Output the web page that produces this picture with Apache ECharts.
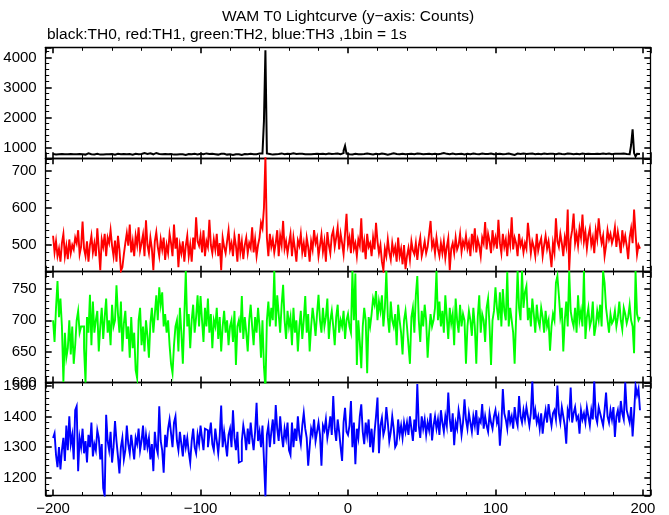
<!DOCTYPE html>
<html><head><meta charset="utf-8">
<script src="https://cdn.jsdelivr.net/npm/echarts@6/dist/echarts.min.js"></script>
<style>html,body{margin:0;padding:0;background:#fff}#c{width:669px;height:515px}</style>
</head><body><div id="c"></div>
<script>
// time bins: 1 bin = 1 s, first bin starts at t = -200 s
const binStart = -200;
const binWidth = 1;

// TH0 (black) counts per bin
const th0 = [
790,775,800,785,770,790,795,780,765,785,800,790,775,780,795,785,770,790,805,780,
785,770,795,810,790,780,765,775,790,800,785,770,760,775,790,785,770,780,795,790,
780,770,785,800,795,780,770,790,805,785,775,790,780,770,785,800,790,780,775,790,
810,820,800,790,805,815,790,780,800,825,810,790,795,780,770,790,800,785,775,790,
780,770,790,775,760,780,795,785,770,760,775,790,785,780,795,800,790,775,785,800,
790,780,795,810,805,790,780,795,800,785,775,770,780,795,790,800,785,770,765,780,
775,760,770,785,790,780,770,760,775,790,800,785,780,795,790,780,800,785,790,810,
790,805,820,1890,4250,810,790,775,770,785,780,800,790,820,810,795,780,790,800,785,
790,800,815,805,790,780,795,810,800,790,785,795,780,770,785,800,790,780,795,805,
790,785,800,795,780,790,805,800,790,785,795,800,810,790,785,800,820,900,1060,800,
780,790,775,785,800,790,780,770,785,795,790,800,805,785,790,780,775,785,800,790,
785,795,810,800,790,780,770,785,790,800,815,805,790,785,780,795,800,790,785,780,
790,800,795,785,780,790,805,800,795,790,785,780,790,800,795,785,780,790,800,795,
785,790,800,810,820,805,795,790,785,800,810,795,785,780,790,800,795,785,775,790,
800,795,785,790,805,800,790,785,780,795,805,800,790,785,790,800,810,795,785,780,
790,805,800,790,780,775,790,800,810,795,785,790,760,780,805,800,790,795,810,800,
790,785,800,815,805,790,780,795,800,790,785,800,810,795,790,780,795,805,800,790,
785,795,810,800,790,785,780,795,805,815,800,790,785,795,800,790,780,790,805,800,
790,785,800,795,790,780,790,800,795,785,790,800,810,795,790,800,805,790,785,795,
800,810,795,790,800,815,805,795,790,800,785,780,1090,1610,820,710,800,790,795
];

// TH1 (red) counts per bin
const th1 = [
525,480,510,470,490,455,505,530,470,498,462,515,478,500,488,520,505,540,475,495,
563,490,470,510,455,500,525,480,505,470,545,490,432,515,495,530,470,520,505,540,
498,470,512,455,525,488,430,440,475,505,532,498,555,480,510,470,525,500,548,485,
505,528,470,567,500,478,520,490,432,510,535,495,470,515,488,520,460,500,478,530,
505,470,555,490,520,440,500,478,510,455,498,525,470,500,455,520,488,575,510,498,
525,480,540,470,510,495,568,500,478,515,488,530,470,505,432,520,495,478,510,540,
488,505,470,525,498,455,530,480,510,462,500,520,478,505,492,548,480,515,470,500,
520,560,545,600,740,520,470,530,495,515,480,505,540,470,525,500,565,490,510,478,
505,530,470,520,490,455,512,498,530,480,505,468,520,495,455,510,488,540,505,520,
470,498,528,482,510,455,535,500,478,525,540,495,520,548,488,530,505,475,530,584,
500,520,478,545,490,505,470,515,498,572,480,510,462,530,495,505,470,520,488,560,
510,478,500,455,432,490,470,515,480,460,505,478,495,455,520,470,490,448,500,435,
470,492,460,510,485,475,505,460,498,520,470,488,510,478,495,530,565,495,510,478,
520,490,470,505,478,510,465,495,518,432,490,505,478,520,488,500,530,482,510,495,
525,490,508,470,530,500,545,480,515,498,470,520,505,562,488,530,510,478,540,500,
520,490,568,505,478,530,495,515,470,525,500,575,488,520,505,470,530,498,512,480,
505,490,560,520,478,510,495,470,530,485,505,518,470,500,525,490,510,478,440,505,
480,572,510,495,530,505,470,520,498,596,432,515,540,585,505,530,498,545,520,582,
510,535,490,525,545,500,520,478,540,515,572,530,505,525,470,498,540,515,530,505,
520,548,495,535,510,478,540,505,525,498,462,520,545,505,596,530,474,500,490
];

// TH2 (green) counts per bin
const th2 = [
700,665,720,763,705,735,690,601,680,640,655,700,645,690,630,660,700,715,680,690,
690,655,600,705,680,741,660,730,680,700,715,650,690,720,670,705,735,680,700,660,
725,690,700,756,710,680,730,650,695,715,670,690,640,705,655,680,620,607,700,720,
660,690,650,700,675,640,695,720,680,710,740,700,753,725,745,690,710,680,700,660,
630,615,660,690,700,650,720,680,630,705,779,690,710,655,700,725,680,705,740,690,
739,700,665,720,690,735,680,710,655,700,690,720,670,705,650,690,715,680,700,660,
690,700,665,715,628,690,700,680,739,670,705,680,650,700,725,690,660,705,680,720,
690,640,700,625,590,700,730,690,720,700,779,690,740,710,680,725,757,700,670,715,
690,705,660,720,680,700,650,690,715,670,700,739,680,710,650,690,720,700,675,710,
741,700,680,720,690,705,735,670,700,715,690,660,705,725,680,700,690,715,670,700,
710,690,680,779,700,775,628,700,665,623,690,720,700,615,705,690,710,735,725,747,
700,730,715,740,690,720,779,705,680,730,700,690,710,660,725,700,680,645,700,715,
690,660,630,705,720,680,740,771,700,665,715,690,725,700,640,680,710,690,700,720,
779,700,730,690,715,680,740,705,670,720,695,710,660,735,700,680,725,690,710,700,
630,690,715,700,675,720,690,630,705,740,680,710,700,665,720,735,690,628,700,715,
753,720,700,745,690,750,715,700,778,690,720,700,680,630,705,779,720,700,779,720,
745,755,700,720,690,735,710,680,725,700,690,720,705,680,715,690,700,651,690,710,
700,760,771,740,705,720,650,700,730,690,779,715,700,690,720,680,740,700,715,690,
779,670,705,720,690,700,730,675,690,715,700,725,690,779,760,720,700,680,710,695,
700,715,690,705,730,700,685,720,710,695,705,725,700,690,647,779,710,700,705
];

// TH3 (blue) counts per bin
const th3 = [
1330,1345,1275,1235,1300,1228,1290,1330,1255,1370,1290,1400,1310,1340,1260,1420,1433,1222,1330,1300,
1360,1280,1320,1250,1340,1300,1380,1270,1310,1290,1355,1330,1260,1310,1167,1142,1405,1320,1290,1350,
1250,1300,1385,1320,1270,1215,1300,1330,1260,1290,1370,1310,1280,1340,1300,1260,1330,1310,1360,1290,
1320,1370,1290,1340,1300,1330,1260,1310,1222,1350,1300,1280,1433,1320,1290,1217,1340,1300,1360,1390,
1345,1300,1380,1400,1320,1290,1350,1310,1270,1340,1300,1330,1285,1250,1320,1360,1300,1280,1340,1310,
1370,1330,1290,1360,1355,1300,1340,1380,1310,1290,1360,1320,1280,1335,1435,1300,1350,1310,1270,1340,
1360,1300,1420,1330,1290,1350,1250,1255,1320,1370,1340,1290,1360,1310,1380,1330,1290,1350,1444,1320,
1350,1300,1370,1260,1140,1340,1370,1300,1350,1390,1310,1437,1360,1320,1400,1340,1300,1360,1330,1380,
1290,1275,1380,1300,1360,1320,1400,1340,1310,1370,1411,1360,1330,1240,1300,1360,1340,1390,1320,1350,
1380,1340,1240,1370,1355,1390,1330,1360,1400,1340,1466,1360,1320,1390,1350,1300,1255,1380,1428,1350,
1340,1370,1450,1300,1380,1245,1360,1330,1400,1439,1350,1310,1380,1340,1390,1300,1360,1283,1350,1400,
1461,1280,1370,1395,1340,1360,1430,1380,1320,1350,1400,1360,1300,1310,1390,1340,1370,1330,1380,1350,
1380,1340,1400,1360,1320,1390,1350,1505,1370,1330,1400,1360,1390,1340,1380,1355,1410,1322,1370,1400,
1360,1390,1340,1420,1380,1350,1400,1370,1477,1390,1350,1410,1306,1380,1360,1420,1390,1340,1380,1455,
1390,1360,1410,1380,1350,1400,1370,1420,1340,1390,1380,1440,1360,1400,1370,1350,1410,1380,1360,1400,
1420,1380,1400,1305,1370,1489,1410,1390,1360,1420,1380,1400,1360,1430,1390,1370,1466,1400,1380,1420,
1390,1430,1400,1370,1410,1515,1390,1420,1380,1400,1360,1410,1344,1390,1420,1380,1440,1400,1370,1410,
1420,1390,1500,1410,1380,1430,1400,1370,1311,1420,1400,1494,1380,1410,1430,1390,1400,1344,1420,1390,
1410,1380,1430,1400,1370,1420,1390,1516,1400,1380,1430,1410,1390,1370,1420,1477,1400,1380,1420,1390,
1430,1333,1400,1420,1380,1450,1410,1390,1511,1420,1400,1380,1430,1335,1410,1500,1470,1490,1420
];

// axis ranges / ticks
const xRange = [-205, 205];
const xMajor = 100;
const yMins = [647, 428, 600, 1143];
const yMaxs = [4347, 734, 778, 1510];
const yMajors = [1000, 100, 50, 100];
const ySplits = [4, 3, 4, 4];
const titleText = 'WAM T0 Lightcurve (y\u2212axis: Counts)';
const subText = 'black:TH0, red:TH1, green:TH2, blue:TH3 ,1bin = 1s';

// layout / style
const FONT = '"Liberation Sans", Arial, Helvetica, sans-serif';
const panelEdges = [47.3, 158.3, 271.7, 382.5, 495.5];
const gridLeft = 45.7, gridWidth = 604.6;
const colors = ['#000000', '#ff0000', '#00ff00', '#0000ff'];
const widths = [2, 1.9, 1.9, 1.9];
const allSeries = [th0, th1, th2, th3];

function toPairs(arr) {
  return arr.map((v, i) => [binStart + i * binWidth, v]);
}
const black = '#000';
function axisCommon() {
  return {
    axisLine: { show: true, onZero: false, lineStyle: { color: black, width: 1.3 } },
    axisTick: { show: true, inside: true, length: 6, lineStyle: { color: black, width: 1.6 } },
    minorTick: { show: true, splitNumber: 5, length: 3.5, lineStyle: { color: black, width: 1 } },
    splitLine: { show: false },
    minorSplitLine: { show: false }
  };
}
const grids = [], xAxes = [], yAxes = [], series = [];
for (let i = 0; i < 4; i++) {
  grids.push({ left: gridLeft, width: gridWidth, top: panelEdges[i],
    height: panelEdges[i + 1] - panelEdges[i], show: false, containLabel: false, outerBoundsMode: 'none' });
  const isLast = i === 3;
  ['bottom', 'top'].forEach((pos) => {
    xAxes.push(Object.assign(axisCommon(), {
      type: 'value', gridIndex: i, position: pos, min: xRange[0], max: xRange[1], splitNumber: 4,
      axisLabel: {
        show: isLast && pos === 'bottom', margin: 6, color: black, fontSize: 15, fontFamily: FONT,
        formatter: v => (Math.abs(v % xMajor) < 1e-9 ? String(v).replace('-', '\u2212') : '')
      }
    }));
  });
  ['left', 'right'].forEach((pos) => {
    const major = yMajors[i];
    yAxes.push(Object.assign(axisCommon(), {
      type: 'value', gridIndex: i, position: pos, min: yMins[i], max: yMaxs[i], splitNumber: ySplits[i],
      scale: true,
      axisLabel: {
        show: pos === 'left', margin: 9, color: black, fontSize: 15, fontFamily: FONT,
        showMinLabel: true, showMaxLabel: true,
        formatter: v => (Math.abs(v % major) < 1e-9 ? String(v) : '')
      }
    }));
  });
  series.push({
    type: 'line', xAxisIndex: i * 2, yAxisIndex: i * 2, data: toPairs(allSeries[i]),
    step: 'end', showSymbol: false, symbol: 'none', clip: true, silent: true,
    lineStyle: { color: colors[i], width: widths[i], join: 'miter' }, itemStyle: { color: colors[i] },
    animation: false, z: 1
  });
}

const chart = echarts.init(document.getElementById('c'), null, { renderer: 'canvas' });
chart.setOption({
  backgroundColor: '#fff',
  animation: false,
  grid: grids, xAxis: xAxes, yAxis: yAxes, series: series,
  graphic: [
    { type: 'text', x: 348, y: 17, style: { text: titleText, font: '15.5px ' + FONT, fill: black,
      align: 'center', verticalAlign: 'middle', textAlign: 'center', textVerticalAlign: 'middle' } },
    { type: 'text', x: 47, y: 35, style: { text: subText, font: '15.5px ' + FONT, fill: black,
      align: 'left', verticalAlign: 'middle', textAlign: 'left', textVerticalAlign: 'middle' } }
  ]
});
</script></body></html>
